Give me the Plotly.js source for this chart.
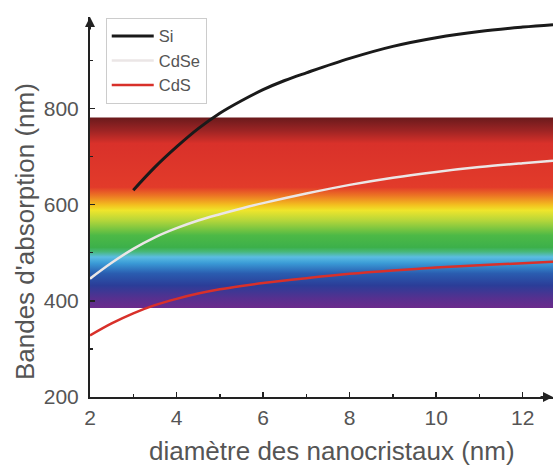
<!DOCTYPE html>
<html>
<head>
<meta charset="utf-8">
<script src="https://cdn.plot.ly/plotly-3.0.1.min.js"></script>
<style>html,body{margin:0;padding:0;background:#fff;}#chart{width:555px;height:467px;}</style>
</head>
<body>
<div id="chart"></div>
<script>
// Data
var siX   = [3, 3.5, 4, 4.5, 5, 5.5, 6, 6.5, 7, 8, 9, 10, 11, 12, 12.7];
var siY   = [630, 678, 720, 758, 790, 816, 839, 858, 874, 904, 929, 947, 960, 969, 974];
var cdseX = [2, 2.5, 3, 3.5, 4, 4.5, 5, 5.5, 6, 7, 8, 9, 10, 11, 12, 12.7];
var cdseY = [446, 479, 508, 532, 551, 567, 580, 592, 603, 623, 641, 656, 668, 678, 686, 691];
var cdsX  = [2, 2.5, 3, 3.5, 4, 4.5, 5, 5.5, 6, 7, 8, 9, 10, 11, 12, 12.7];
var cdsY  = [328, 353, 374, 391, 404, 415, 424, 431, 437, 447, 456, 463, 469, 474, 478, 481];
// visible spectrum band (nm)
var bandX = [2, 12.7, 12.7, 2, 2];
var bandY = [385, 385, 781, 781, 385];
var spectrumNm = [385, 405, 432, 457, 478, 491, 502, 511, 536, 567, 588, 599, 619, 636, 727, 754, 781];
var spectrumColors = ['#6b2b8c', '#56308f', '#2b3d98', '#2a5db0', '#3a9ad6', '#5bbde2', '#48b87a', '#3cb04a', '#4db946', '#b5d63a', '#efe52b', '#f3c01f', '#ec7424', '#e23b2a', '#d9312a', '#9c2424', '#6a1a1c'];
var seriesNames = ['Si', 'CdSe', 'CdS'];
var xTitle = 'diamètre des nanocristaux (nm)';
var yTitle = "Bandes d'absorption (nm)";

var lo = spectrumNm[0], hi = spectrumNm[spectrumNm.length - 1];
var colorscale = spectrumNm.map(function (v, i) { return [(v - lo) / (hi - lo), spectrumColors[i]]; });

var grey = '#555555';
var font = 'Liberation Sans, Arial, sans-serif';

var traces = [
  {x: bandX, y: bandY, type: 'scatter', mode: 'lines', fill: 'toself',
   line: {width: 0}, fillgradient: {type: 'vertical', colorscale: colorscale, start: lo, stop: hi},
   showlegend: false, hoverinfo: 'skip'},
  {x: siX, y: siY, name: seriesNames[0], type: 'scatter', mode: 'lines', line: {color: '#1a1a1a', width: 3, shape: 'spline', smoothing: 1}},
  {x: cdseX, y: cdseY, name: seriesNames[1], type: 'scatter', mode: 'lines', line: {color: '#ebe6e6', width: 2.5, shape: 'spline', smoothing: 1}},
  {x: cdsX, y: cdsY, name: seriesNames[2], type: 'scatter', mode: 'lines', line: {color: '#d8302a', width: 2.5, shape: 'spline', smoothing: 1}}
];

var layout = {
  width: 555, height: 467,
  margin: {l: 90, r: 2, t: 17, b: 70},
  paper_bgcolor: '#fff', plot_bgcolor: '#fff',
  font: {family: font, color: grey},
  showlegend: true,
  legend: {x: 0.034, y: 0.998, xanchor: 'left', yanchor: 'top', bgcolor: 'rgba(255,255,255,0.9)',
           bordercolor: '#cccccc', borderwidth: 1, font: {size: 16.5, color: grey, family: font},
           itemwidth: 42, tracegroupgap: 0},
  xaxis: {range: [2, 12.7], showgrid: false, zeroline: false, showline: true, linecolor: '#222', linewidth: 2,
          ticks: 'inside', ticklen: 5, tickwidth: 1.5, tickcolor: '#222', dtick: 2, tick0: 2,
          minor: {dtick: 1, ticks: 'inside', ticklen: 3, tickcolor: '#222'},
          tickfont: {size: 21, color: grey}, ticklabelstandoff: 1},
  yaxis: {range: [200, 990], showgrid: false, zeroline: false, showline: true, linecolor: '#222', linewidth: 2,
          ticks: 'inside', ticklen: 5, tickwidth: 1.5, tickcolor: '#222', dtick: 200, tick0: 200,
          minor: {dtick: 100, ticks: 'inside', ticklen: 3, tickcolor: '#222'},
          tickfont: {size: 21, color: grey}, ticklabelstandoff: 5},
  annotations: [
    {xref: 'paper', yref: 'paper', x: 0, y: 1, ax: 0, ay: 14, text: '', showarrow: true,
     arrowhead: 2, arrowsize: 1, arrowwidth: 2, arrowcolor: '#222'},
    {xref: 'paper', yref: 'paper', x: 1, y: 0, ax: -14, ay: 0, text: '', showarrow: true,
     arrowhead: 2, arrowsize: 1, arrowwidth: 2, arrowcolor: '#222'},
    {xref: 'paper', yref: 'paper', x: 0.523, y: -0.142, xanchor: 'center', yanchor: 'middle',
     text: xTitle, showarrow: false, font: {size: 26, color: grey, family: font}},
    {xref: 'paper', yref: 'paper', x: 0, xshift: -65, y: 0.434, xanchor: 'center', yanchor: 'middle',
     text: yTitle, textangle: -90, showarrow: false, font: {size: 26, color: grey, family: font}}
  ]
};

Plotly.newPlot('chart', traces, layout, {staticPlot: true});
</script>
</body>
</html>
